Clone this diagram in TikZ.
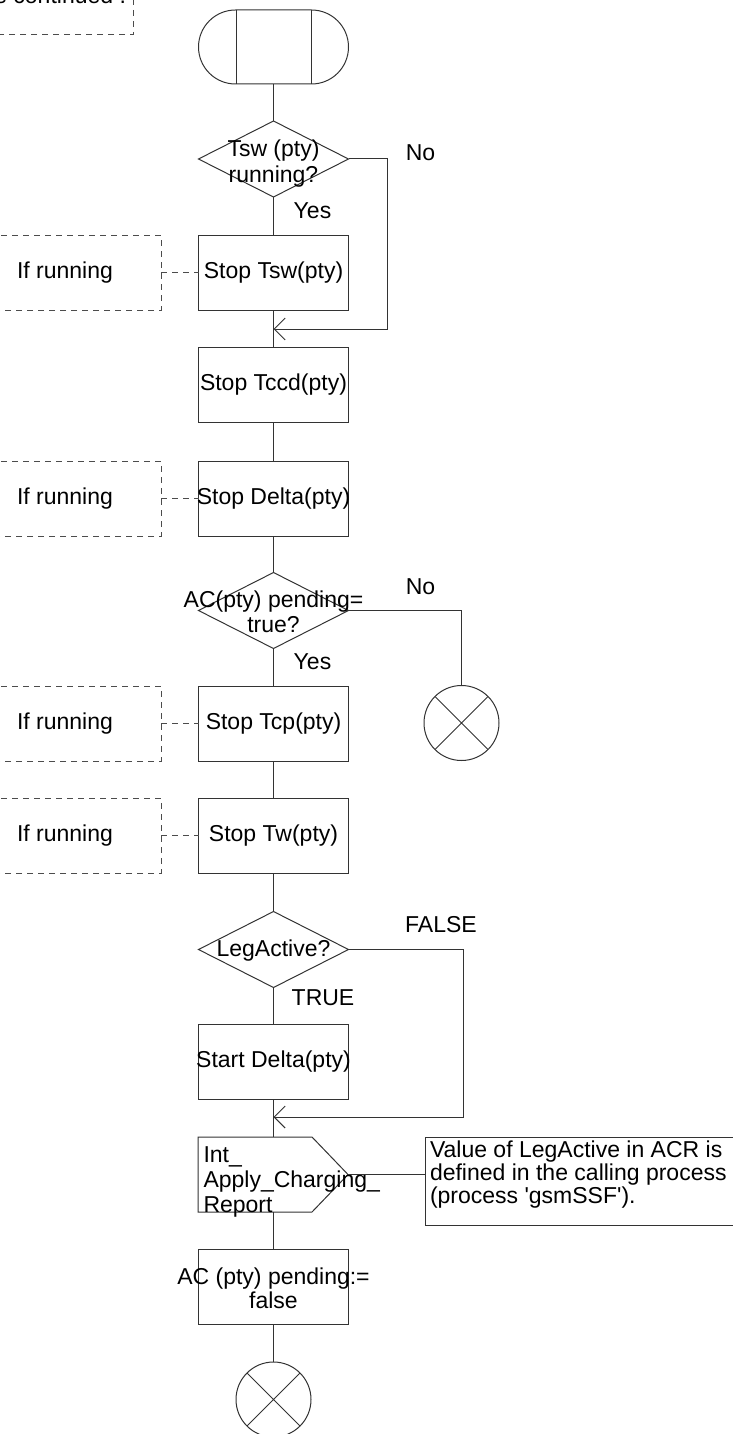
\documentclass[tikz,border=0pt]{standalone}
\usepackage{fontspec}
\setmainfont{Liberation Sans}
\usetikzlibrary{shapes.geometric,shapes.misc,arrows.meta}
\newcommand{\ctab}[2]{{\fontsize{23}{#1}\selectfont\begin{tabular}{@{}c@{}}#2\end{tabular}}}
\newcommand{\ltab}[2]{{\fontsize{23}{#1}\selectfont\begin{tabular}{@{}l@{}}#2\end{tabular}}}
\begin{document}
\begin{tikzpicture}[x=1pt,y=-1pt,
  font=\fontsize{23}{25}\selectfont,
  line/.style={draw=black!80, line width=1pt},
  proc/.style={line, rectangle, minimum width=150pt, minimum height=75pt, inner sep=0pt, outer sep=0pt},
  dec/.style={line, diamond, aspect=2, minimum width=150pt, minimum height=76pt, inner sep=0pt, outer sep=0pt},
  stopc/.style={line, circle, minimum size=75pt, inner sep=0pt, outer sep=0pt},
  cmtline/.style={draw=black!70, line width=1pt, dash pattern=on 6pt off 5pt},
  txt/.style={inner sep=0pt, outer sep=0pt},
  arr/.style={-{Straight Barb[length=11pt,width=22pt,line width=1pt]}}]
\useasboundingbox (0,0) rectangle (733,1434);

% top-left clipped comment
\draw[cmtline] (133,-12) -- (133,35) -- (-10,35);
\node[txt, anchor=base east] (cont) at (126,4) {e continued .};

% start symbol
\node[line, rounded rectangle, minimum width=150pt, minimum height=74pt, inner sep=0pt, outer sep=0pt] (start) at (273.5,47) {};
\draw[line] (236,10) -- (236,84) (311,10) -- (311,84);

% decision 1
\node[dec] (d1) at (273.5,159) {};
\node[txt, yshift=-5.5pt] (d1t) at (d1) {\ctab{26}{Tsw (pty)\\running?}};
\node[txt] (no1) at (420.5,153) {No};
\node[txt] (yes1) at (312.5,211) {Yes};

\node[proc] (b1) at (273.5,272.5) {\makebox[0pt]{Stop Tsw(pty)}};
\coordinate (m1) at (273.5,329);
\node[proc] (b2) at (273.5,385) {\makebox[0pt]{Stop Tccd(pty)}};
\node[proc] (b3) at (273.5,498.5) {\makebox[0pt]{Stop Delta(pty)}};

\node[dec] (d2) at (273.5,610.5) {};
\node[txt, yshift=-4pt] (d2t) at (d2) {\ctab{25}{AC(pty) pending=\\true?}};
\node[txt] (no2) at (420.5,587) {No};
\node[txt] (yes2) at (312.5,662) {Yes};
\node[stopc] (s1) at (461.5,723) {};
\draw[line] (s1.north west) -- (s1.south east) (s1.north east) -- (s1.south west);

\node[proc] (b4) at (273.5,723.5) {\makebox[0pt]{Stop Tcp(pty)}};
\node[proc] (b5) at (273.5,835.5) {\makebox[0pt]{Stop Tw(pty)}};

\node[dec] (d3) at (273.5,949.5) {};
\node[txt, yshift=-1.5pt] (d3t) at (d3) {\makebox[0pt]{LegActive?}};
\node[txt] (f3) at (441,925) {FALSE};
\node[txt] (t3) at (323,998) {TRUE};

\node[proc] (b7) at (273.5,1061.5) {\makebox[0pt]{Start Delta(pty)}};
\coordinate (m2) at (273.5,1117);

% output signal
\coordinate (otop) at (273.5,1137);
\coordinate (obot) at (273.5,1212);
\coordinate (opt) at (348,1174.5);
\draw[line] (198,1137) -- (312,1137) -- (opt) -- (312,1212) -- (198,1212) -- cycle;
\node[txt, anchor=north west] (ot) at (203.5,1144.5) {\ltab{25}{Int\_\\Apply\_Charging\_\\Report}};

% comment box right
\node[line, rectangle, anchor=north west, minimum width=330pt, minimum height=88pt, inner sep=0pt, outer sep=0pt] (cmt) at (425,1137) {};
\node[txt, anchor=north west] (cmtt) at (430,1141) {\ltab{21}{Value of LegActive in ACR is\\defined in the calling process\\(process \textquotesingle gsmSSF\textquotesingle).}};

\node[proc] (b8) at (273.5,1286.5) {};
\node[txt, yshift=-5pt] (b8t) at (b8) {\ctab{23}{AC (pty) pending:=\\false}};
\node[stopc] (s2) at (273.5,1399.5) {};
\draw[line] (s2.north west) -- (s2.south east) (s2.north east) -- (s2.south west);

% comments "If running"
\foreach \n/\yy in {c1/272.5, c3/498.5, c4/723.5, c5/835.5}{
  \node[txt, anchor=west] (\n) at (17,\yy) {If running};
  \draw[cmtline] (-10,\yy-37.5) -- (161,\yy-37.5) -- (161,\yy+37.5) -- (-10,\yy+37.5);
  \coordinate (\n k) at (161,\yy);
}
\draw[cmtline] (c1k) -- (b1.west);
\draw[cmtline] (c3k) -- (b3.west);
\draw[cmtline] (c4k) -- (b4.west);
\draw[cmtline] (c5k) -- (b5.west);

% flow lines
\draw[line] (start.south) -- (d1.north);
\draw[line] (d1.south) -- (b1.north);
\draw[line] (b1.south) -- (b2.north);
\draw[line, arr] (d1.east) -- ++(39,0) |- (m1);
\draw[line] (b2.south) -- (b3.north);
\draw[line] (b3.south) -- (d2.north);
\draw[line] (d2.east) -| (s1.north);
\draw[line] (d2.south) -- (b4.north);
\draw[line] (b4.south) -- (b5.north);
\draw[line] (b5.south) -- (d3.north);
\draw[line] (d3.south) -- (b7.north);
\draw[line] (b7.south) -- (otop);
\draw[line, arr] (d3.east) -- ++(115,0) |- (m2);
\draw[line] (opt) -- (opt -| cmt.west);
\draw[line] (obot) -- (b8.north);
\draw[line] (b8.south) -- (s2.north);
\end{tikzpicture}
\end{document}
